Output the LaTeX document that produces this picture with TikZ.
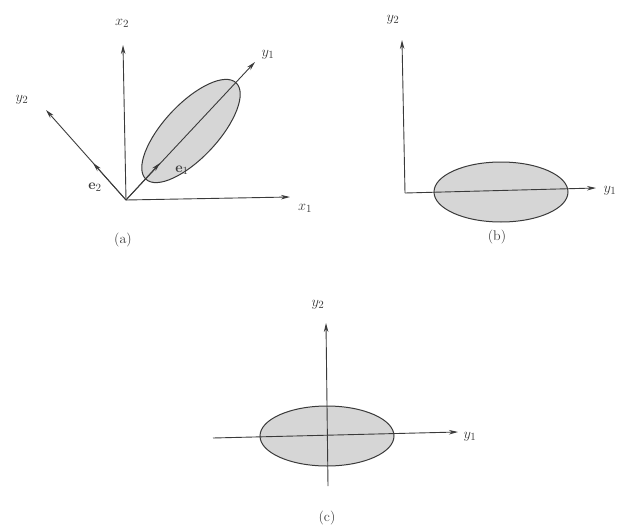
\documentclass[tikz,border=0pt]{standalone}
\usepackage{xcolor}
\definecolor{ink}{HTML}{3A3A3A}
\definecolor{shade}{HTML}{D6D6D6}
\usepackage{tikz}
\usetikzlibrary{arrows.meta}

\begin{document}
\begin{tikzpicture}[x=1pt,y=-1pt,
  font=\fontsize{15}{18}\selectfont,
  axis/.style={draw=ink,line width=0.9pt,-{Stealth[length=9pt,width=4.5pt]}},
  blob/.style={draw=ink,fill=shade,line width=1pt},
  lbl/.style={text=ink,inner sep=1pt},
  figcap/.style={text=ink,font=\fontsize{14}{16}\selectfont}]
\useasboundingbox (0,0) rectangle (622,530);
% (a) original axes and rotated axes
\coordinate (oa) at (126,200);
\coordinate (x1a) at (290,197);
\coordinate (x2a) at (123,45);
\coordinate (y1a) at (255,62);
\coordinate (y2a) at (46,110);
\coordinate (e1) at (160,163);
\coordinate (e2) at (93,163);
\path[blob] (191,131) ellipse[x radius=66,y radius=27,rotate=46.9];
\draw[axis] (oa) -- (x1a);
\draw[axis] (oa) -- (x2a);
\draw[axis] (oa) -- (y1a);
\draw[axis] (oa) -- (y2a);
\draw[axis] (oa) -- (e1);
\draw[axis] (oa) -- (e2);
\node[lbl] (lx2) at (122,23) {$x_2$};
\node[lbl] (lx1) at (305,208) {$x_1$};
\node[lbl] (ly1a) at (268,55) {$y_1$};
\node[lbl] (ly2a) at (22,100) {$y_2$};
\node[lbl] (le1) at (182,170) {$\mathbf{e}_1$};
\node[lbl] (le2) at (95,187) {$\mathbf{e}_2$};
\node[figcap] (capa) at (123,240) {(a)};
% (b) shifted to the mean
\coordinate (ob) at (405,193);
\coordinate (y1b) at (596,188);
\coordinate (y2b) at (402,40);
\path[blob] (501,192) ellipse[x radius=67,y radius=30];
\draw[axis] (ob) -- (y1b);
\draw[axis] (ob) -- (y2b);
\node[lbl] (ly2b) at (393,20) {$y_2$};
\node[lbl] (ly1b) at (610,191) {$y_1$};
\node[figcap] (capb) at (497,237) {(b)};
% (c) centred
\coordinate (lc) at (213,438);
\coordinate (bc) at (328,486);
\coordinate (y1c) at (458,432);
\coordinate (y2c) at (326,323);
\path[blob] (327,436) ellipse[x radius=67,y radius=30];
\draw[axis] (lc) -- (y1c);
\draw[axis] (bc) -- (y2c);
\node[lbl] (ly2c) at (318,305) {$y_2$};
\node[lbl] (ly1c) at (470,437) {$y_1$};
\node[figcap] (capc) at (327,518) {(c)};
\end{tikzpicture}
\end{document}
